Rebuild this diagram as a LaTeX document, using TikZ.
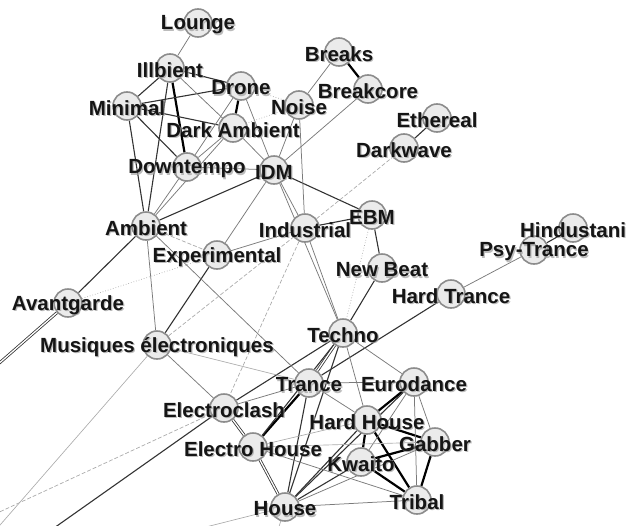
\documentclass[tikz,border=0pt]{standalone}
\usepackage{fontspec}
\setmainfont{Liberation Sans}
\definecolor{nodefill}{HTML}{EBEBEB}
\definecolor{nodeedge}{HTML}{8C8C8C}
\definecolor{labelcol}{HTML}{151515}
\definecolor{shadowcol}{HTML}{A0A0A0}
\definecolor{midcol}{HTML}{333333}
\definecolor{thincol}{HTML}{7A7A7A}
\definecolor{faintcol}{HTML}{ABABAB}
\pgfdeclarelayer{bg}
\pgfdeclarelayer{fg}
\pgfsetlayers{bg,main,fg}
\begin{document}
\begin{tikzpicture}[x=1pt,y=-1pt,
  gnode/.style={circle, minimum size=28pt, inner sep=0pt, fill=nodefill, draw=nodeedge, line width=1.6pt},
  lbl/.style={font=\fontsize{20.5}{21}\selectfont\bfseries, text=labelcol, inner sep=0pt, anchor=center},
  shd/.style={font=\fontsize{20.5}{21}\selectfont\bfseries, text=shadowcol, inner sep=0pt, anchor=center, opacity=0.7},
  heavyE/.style={draw=black, line width=2.2pt},
  midE/.style={draw=midcol, line width=1.1pt},
  thinE/.style={draw=thincol, line width=0.75pt},
  faintE/.style={draw=faintcol, line width=0.65pt},
  dashE/.style={draw=faintcol, line width=0.7pt, dashed, dash pattern=on 4pt off 2pt},
  dotE/.style={draw=faintcol, line width=0.7pt, dotted},
  dblE/.style={draw=midcol, line width=0.8pt, double=white, double distance=1.3pt}
]
\useasboundingbox (0,0) rectangle (626,525);
\clip (0,0) rectangle (626,525);

% nodes (circles)
\foreach \n/\x/\y in {
  Lounge/198/23, Illbient/170/68, Drone/241/86, Minimal/127/106, Noise/299/105,
  DarkAmbient/233/128, Downtempo/187/167, IDM/274/170, Breaks/339/52, Breakcore/368/89,
  Ethereal/437/118, Darkwave/404/148, Ambient/146/226, Experimental/217/255,
  Industrial/305/228, EBM/372/215, Avantgarde/68/303, Musiques/157/345,
  Hindustani/573/228, PsyTrance/534/250, NewBeat/382/268, HardTrance/451/294,
  Techno/343/333, Trance/309/383, Eurodance/414/382, Electroclash/224/408,
  HardHouse/367/420, ElectroHouse/253/447, Gabber/435/442, Kwaito/361/462,
  House/285/507, Tribal/417/500}
  \node[gnode] (\n) at (\x,\y) {};

% free ends of connectors leaving the frame
\coordinate (offAv) at (-20,380);
\coordinate (offMu) at (-20,548);
\coordinate (offEcA) at (-20,521);
\coordinate (offEcB) at (20,552);
\coordinate (offHoA) at (190,531);
\coordinate (offHoB) at (275,540);

\begin{pgfonlayer}{bg}
% heavy
\foreach \a/\b in {Illbient/Downtempo, Drone/DarkAmbient, Breaks/Breakcore,
  HardHouse/Eurodance, HardHouse/Gabber, HardHouse/Kwaito, HardHouse/Tribal,
  Gabber/Kwaito, Gabber/Tribal, Kwaito/Tribal, Trance/ElectroHouse}
  \draw[heavyE] (\a) -- (\b);
% double
\foreach \a/\b in {Electroclash/ElectroHouse, ElectroHouse/House, Techno/Trance, Avantgarde/offAv}
  \draw[dblE] (\a) -- (\b);
% mid
\foreach \a/\b in {Illbient/Minimal, Illbient/Drone, Illbient/Ambient, Minimal/Ambient,
  Minimal/Drone, Minimal/DarkAmbient, Minimal/Downtempo, Ambient/IDM, Ambient/Avantgarde,
  Ethereal/Darkwave, Industrial/EBM, IDM/EBM, EBM/NewBeat, NewBeat/Techno,
  Techno/Electroclash, Techno/House, Techno/ElectroHouse, Trance/House,
  PsyTrance/Hindustani, Trance/HardTrance, Eurodance/House, Kwaito/House,
  HardHouse/House, Electroclash/offEcB, Experimental/Musiques}
  \draw[midE] (\a) -- (\b);
% thin
\foreach \a/\b in {Lounge/Illbient, Illbient/DarkAmbient, Drone/IDM, Drone/Downtempo,
  DarkAmbient/Downtempo, DarkAmbient/IDM, Noise/IDM, Noise/Breaks, Noise/Industrial,
  Breakcore/IDM, Downtempo/IDM, Ambient/Downtempo, Ambient/DarkAmbient, Ambient/Musiques,
  Ambient/Trance, Experimental/IDM, Experimental/Industrial, IDM/Industrial, IDM/Techno,
  Industrial/Techno, Musiques/Electroclash, Techno/HardHouse, Techno/Eurodance,
  Trance/Electroclash, Trance/Eurodance, Trance/HardHouse, ElectroHouse/Tribal,
  Eurodance/Gabber, Eurodance/Tribal, Eurodance/Kwaito, Gabber/House, Tribal/House,
  HardTrance/PsyTrance}
  \draw[thinE] (\a) -- (\b);
% faint
\foreach \a/\b in {Musiques/Trance, ElectroHouse/Gabber, ElectroHouse/HardHouse,
  Musiques/offMu, House/offHoA, House/offHoB}
  \draw[faintE] (\a) -- (\b);
% dashed
\foreach \a/\b in {Ambient/Experimental, Musiques/Industrial, Industrial/Darkwave,
  Industrial/Electroclash, Electroclash/offEcA}
  \draw[dashE] (\a) -- (\b);
% dotted
\foreach \a/\b in {Drone/Noise, Noise/DarkAmbient, Avantgarde/Experimental, EBM/Techno}
  \draw[dotE] (\a) -- (\b);
\end{pgfonlayer}

% labels, with a soft grey shadow
\begin{pgfonlayer}{fg}
\foreach \n/\t in {
  Lounge/Lounge, Illbient/Illbient, Drone/Drone, Minimal/Minimal, Noise/Noise,
  DarkAmbient/Dark Ambient, Downtempo/Downtempo, IDM/IDM, Breaks/Breaks, Breakcore/Breakcore,
  Ethereal/Ethereal, Darkwave/Darkwave, Ambient/Ambient, Experimental/Experimental,
  Industrial/Industrial, EBM/EBM, Avantgarde/Avantgarde, Musiques/Musiques électroniques,
  Hindustani/Hindustani, PsyTrance/Psy-Trance, NewBeat/New Beat, HardTrance/Hard Trance,
  Techno/Techno, Trance/Trance, Eurodance/Eurodance, Electroclash/Electroclash,
  HardHouse/Hard House, ElectroHouse/Electro House, Gabber/Gabber, Kwaito/Kwaito,
  House/House, Tribal/Tribal}
  {
  \node[shd] (S\n) at ([xshift=1.2pt,yshift=-3.2pt]\n.center) {\t};
  \node[lbl] (L\n) at ([yshift=-2pt]\n.center) {\t};
  }
\end{pgfonlayer}
\end{tikzpicture}
\end{document}
